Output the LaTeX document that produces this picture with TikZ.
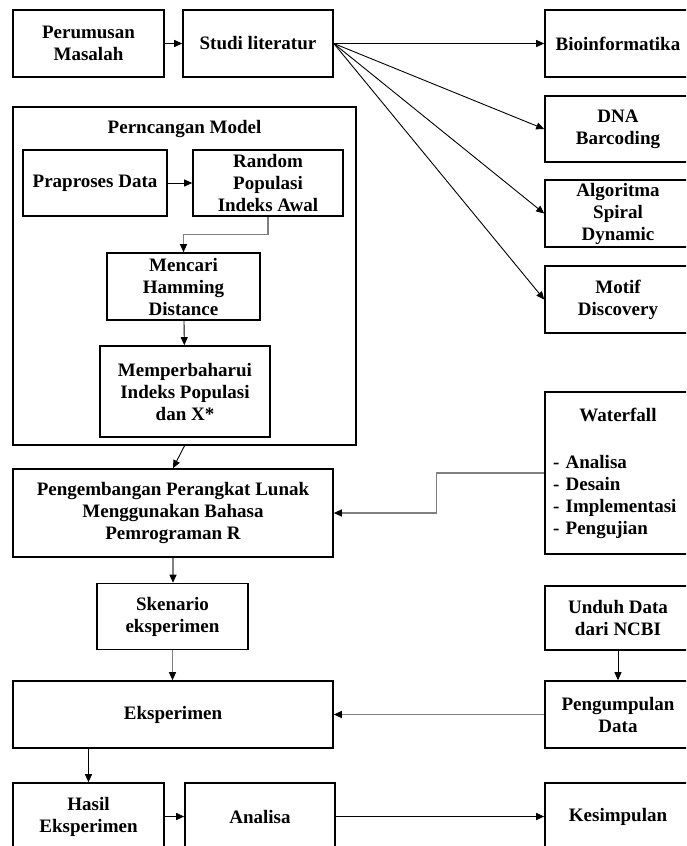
\documentclass[tikz,border=0pt]{standalone}
\usepackage{fontspec}
\setmainfont{Liberation Serif}
\usetikzlibrary{arrows.meta, positioning}

\begin{document}
\begin{tikzpicture}[x=1pt, y=-1pt,
        b/.style={rectangle, draw=black, line width=1.6pt, inner sep=0pt,
                  align=center, font=\fontsize{19}{22}\selectfont\bfseries},
        sz/.style 2 args={minimum width=#1, minimum height=#2},
        t/.style={font=\fontsize{19}{22}\selectfont\bfseries, inner sep=0pt},
        arr/.style={-{Triangle[length=8pt,width=7pt]}, line width=0.9pt, black},
        arrg/.style={-{Triangle[length=8pt,width=7pt,black]}, line width=1.2pt, black!50}]
      \useasboundingbox (0,0) rectangle (686,846);
      \clip (0,0) rectangle (686,846);
      % top row and literature topics
      \node[b, sz={151pt}{67pt}] (pm) at (88.5,43.5) {Perumusan\\Masalah};
      \node[b, sz={150pt}{67pt}] (sl) at (258,43.5) {Studi literatur};
      \node[b, sz={146pt}{67pt}] (bio) at (618,43.5) {Bioinformatika};
      \node[b, sz={146pt}{66pt}] (dna) at (618,129) {DNA\\Barcoding};
      \node[b, sz={146pt}{67pt}] (asd) at (618,213.5) {Algoritma\\Spiral\\Dynamic};
      \node[b, sz={146pt}{67pt}] (md) at (618,299.5) {Motif\\Discovery};
      % model design
      \node[b, sz={343pt}{338pt}] (pmod) at (184.5,276) {};
      \node[t] (pmodt) at (184.5,129) {Perncangan Model};
      \node[b, sz={144pt}{66pt}] (prep) at (95,183) {Praproses Data};
      \node[b, sz={150pt}{66pt}] (rand) at (268,183) {Random\\Populasi\\Indeks Awal};
      \node[b, sz={153pt}{67pt}] (ham) at (183.5,286.5) {Mencari\\Hamming\\Distance};
      \node[b, sz={170pt}{91pt}] (upd) at (185,391.5) {Memperbaharui\\Indeks Populasi\\dan X*};
      % development and experiments
      \node[b, sz={320pt}{88pt}] (dev) at (173,513) {Pengembangan Perangkat Lunak\\Menggunakan Bahasa\\Pemrograman R};
      \node[b, sz={146pt}{162pt}, text width=130pt, align=left] (wf) at (618,473)
        {\makebox[130pt]{Waterfall}\\[25pt] - Analisa\\ - Desain\\ - Implementasi\\ - Pengujian};
      \node[b, sz={151pt}{66pt}] (sken) at (172.5,616.5) {Skenario\\eksperimen};
      \node[b, sz={146pt}{64pt}] (unduh) at (618,618) {Unduh Data\\dari NCBI};
      \node[b, sz={320pt}{67pt}] (eks) at (173,714.5) {Eksperimen};
      \node[b, sz={146pt}{67pt}] (kumpul) at (618,714.5) {Pengumpulan\\Data};
      \node[b, sz={151pt}{67pt}] (hasil) at (88.5,816.5) {Hasil\\Eksperimen};
      \node[b, sz={150pt}{67pt}] (anl) at (260,816.5) {Analisa};
      \node[b, sz={146pt}{67pt}] (kes) at (618,816.5) {Kesimpulan};
      % connectors
      \draw[arr] (pm) -- (sl);
      \foreach \n in {bio, dna, asd, md}
        \draw[arr] (sl.east) -- (\n.west);
      \draw[arr] (prep) -- (rand);
      \draw[arrg] (rand.south) -- ++(0,18) -| (ham.north);
      \draw[arr] (ham) -- (upd);
      \draw[arr] (pmod.south) -- (dev.north);
      \draw[arrg] (wf.west) -- ++(-108,0) |- (dev.east);
      \draw[arrg] (dev.south) -- (dev.south |- sken.north);
      \draw[arrg] (sken.south) -- (sken.south |- eks.north);
      \draw[arr] (unduh) -- (kumpul);
      \draw[arrg] (kumpul) -- (eks);
      \draw[arr] (eks.south -| hasil) -- (hasil.north);
      \draw[arr] (hasil) -- (anl);
      \draw[arr] (anl) -- (kes);
    \end{tikzpicture}
\end{document}
